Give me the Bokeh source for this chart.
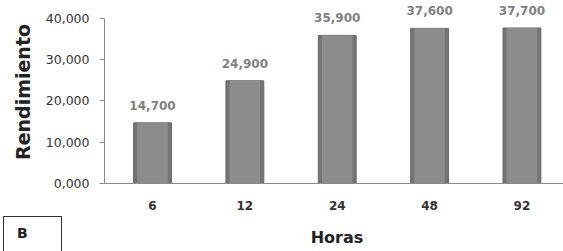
from bokeh.plotting import figure
from bokeh.models import Range1d, FixedTicker, ColumnDataSource, Div
from bokeh.layouts import column
from bokeh.embed import file_html
from bokeh.resources import INLINE
from bokeh.core.properties import value

categories = ["6", "12", "24", "48", "92"]
rendimiento = [14.7, 24.9, 35.9, 37.6, 37.7]
y_ticks = [0, 10, 20, 30, 40]
y_tick_labels = ["0,000", "10,000", "20,000", "30,000", "40,000"]
x_title = "Horas"
y_title = "Rendimiento"
panel_tag = "B"

xpos = list(range(1, len(categories) + 1))
labels = [f"{v:.3f}".replace(".", ",") for v in rendimiento]
src = ColumnDataSource(dict(x=xpos, y=rendimiento, lab=labels))

p = figure(width=563, height=216, output_backend="svg", toolbar_location=None,
           x_range=Range1d(0.48, 5.45), y_range=Range1d(0, 44.36),
           min_border_left=104, min_border_top=0, min_border_right=0, min_border_bottom=33)
p.outline_line_color = None
p.grid.grid_line_color = None
p.background_fill_color = "white"
p.border_fill_color = "white"

p.vbar(x="x", top="y", width=0.41, source=src, fill_color="#747474", line_color="#6a6a6a")
p.vbar(x="x", top="y", width=0.33, source=src, fill_color="#8c8c8c", line_color=None)
p.text(x="x", y="y", text="lab", source=src, text_align="center", text_baseline="bottom",
       y_offset=-13, text_font=value("DejaVu Sans"), text_font_size="12px",
       text_font_style="bold", text_color="#808080")

ya = p.yaxis[0]
ya.ticker = FixedTicker(ticks=y_ticks)
ya.major_label_overrides = {t: l for t, l in zip(y_ticks, y_tick_labels)}
ya.bounds = (0, 40)
ya.axis_line_color = "#8a8a8a"
ya.major_tick_line_color = "#8a8a8a"
ya.major_tick_out = 5
ya.major_tick_in = 0
ya.minor_tick_line_color = None
ya.major_label_standoff = 10
ya.major_label_text_font = "DejaVu Sans"
ya.major_label_text_font_size = "12.5px"
ya.major_label_text_color = "#333333"
ya.axis_label = y_title
ya.axis_label_text_font = "DejaVu Sans"
ya.axis_label_text_font_size = "19px"
ya.axis_label_text_font_style = "bold"
ya.axis_label_text_color = "#222222"
ya.axis_label_standoff = 9

xa = p.xaxis[0]
xa.ticker = FixedTicker(ticks=xpos)
xa.major_label_overrides = {x: c for x, c in zip(xpos, categories)}
xa.axis_line_color = "#8a8a8a"
xa.major_tick_line_color = None
xa.minor_tick_line_color = None
xa.major_label_standoff = 11
xa.major_label_text_font = "DejaVu Sans"
xa.major_label_text_font_size = "12px"
xa.major_label_text_font_style = "bold"
xa.major_label_text_color = "#333333"

html = (
    '<div style="position:relative;width:563px;height:35px;overflow:hidden;'
    'font-family:\'DejaVu Sans\';font-weight:bold;color:#222;">'
    '<div style="position:absolute;left:3px;top:0px;width:59px;height:45px;'
    'border:1px solid #333;box-sizing:border-box;"></div>'
    f'<div style="position:absolute;left:17px;top:9px;font-size:14px;line-height:16px;">{panel_tag}</div>'
    f'<div style="position:absolute;left:337px;top:12px;transform:translateX(-50%);'
    f'font-size:16px;line-height:20px;">{x_title}</div>'
    '</div>'
)
bottom = Div(text=html, width=563, height=35, margin=0)

layout = column(p, bottom, spacing=0)
open("out.html", "w").write(file_html(layout, INLINE))
